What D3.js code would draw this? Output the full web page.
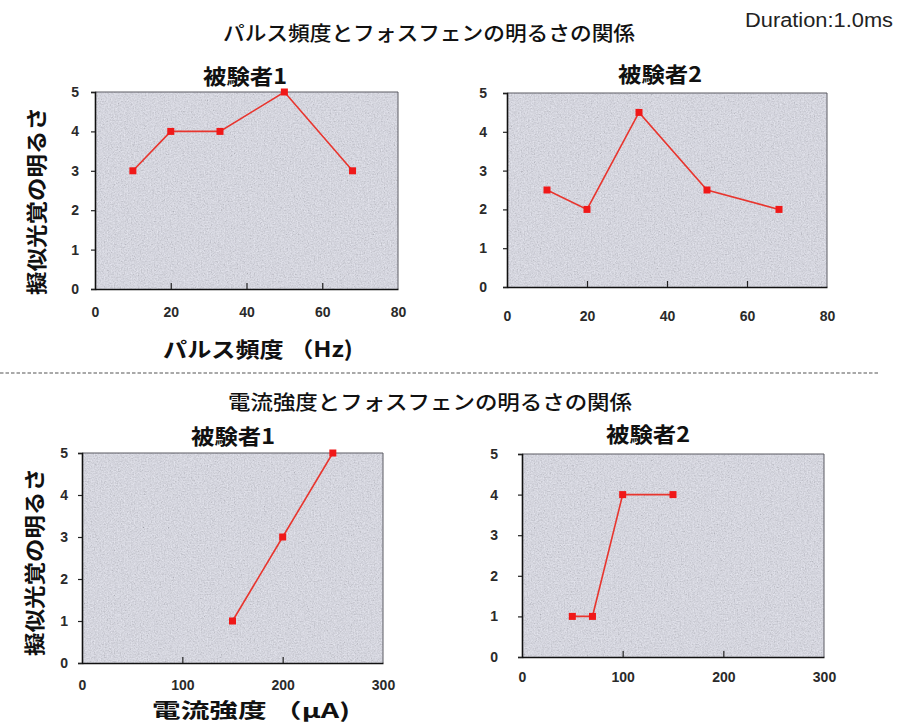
<!DOCTYPE html>
<html>
<head>
<meta charset="utf-8">
<script src="https://cdn.jsdelivr.net/npm/d3@7/dist/d3.min.js"></script>
<style>
  html, body { margin: 0; padding: 0; background: #ffffff; }
  svg { display: block; }
</style>
</head>
<body>
<svg id="chart" width="907" height="724"></svg>
<script>
// ---- data ----
const freqHz = [10, 20, 33, 50, 68];
const freqBrightS1 = [3, 4, 4, 5, 3];
const freqBrightS2 = [2.5, 2, 4.5, 2.5, 2];

const currentS1 = [150, 200, 250];
const currentBrightS1 = [1, 3, 5];
const currentS2 = [50, 70, 100, 150];
const currentBrightS2 = [1, 1, 4, 4];

const freqTicks = [0, 20, 40, 60, 80];
const currentTicks = [0, 100, 200, 300];
const brightTicks = [0, 1, 2, 3, 4, 5];

const subjectNames = ["被験者1", "被験者2"];
const titleFreq = "パルス頻度とフォスフェンの明るさの関係";
const titleCurrent = "電流強度とフォスフェンの明るさの関係";
const yLabel = "擬似光覚の明るさ";
const xLabelFreq = "パルス頻度 （Hz)";
const xLabelCurrent = "電流強度 （μA)";
const durationNote = "Duration:1.0ms";

// ---- layout ----
const svg = d3.select("#chart");
const CJK = "'Noto Sans CJK JP', 'Noto Sans CJK SC', sans-serif";
const LAT = "'Liberation Sans', Arial, sans-serif";

// grainy texture for the plot areas
const defs = svg.append("defs");
const grain = defs.append("filter").attr("id", "grain")
  .attr("x", 0).attr("y", 0).attr("width", "100%").attr("height", "100%");
grain.append("feTurbulence").attr("type", "fractalNoise")
  .attr("baseFrequency", 0.7).attr("numOctaves", 3).attr("seed", 11);
grain.append("feColorMatrix").attr("type", "matrix")
  .attr("values", "0.55 0.55 0.55 0 -0.33  0.55 0.55 0.55 0 -0.33  0.52 0.52 0.60 0 -0.33  0 0 0 0 1");

const panels = [
  { xs: freqHz, ys: freqBrightS1, xDomain: [0, 80], xTicks: freqTicks, name: subjectNames[0],
    box: { l: 95, r: 398, t: 92, b: 289 }, nameAt: [245, 75], yPad: 12, xPad: 18 },
  { xs: freqHz, ys: freqBrightS2, xDomain: [0, 80], xTicks: freqTicks, name: subjectNames[1],
    box: { l: 507, r: 827, t: 93, b: 287 }, nameAt: [660, 73], yPad: 16, xPad: 24 },
  { xs: currentS1, ys: currentBrightS1, xDomain: [0, 300], xTicks: currentTicks, name: subjectNames[0],
    box: { l: 82, r: 383, t: 453, b: 663 }, nameAt: [233, 435], yPad: 10, xPad: 17 },
  { xs: currentS2, ys: currentBrightS2, xDomain: [0, 300], xTicks: currentTicks, name: subjectNames[1],
    box: { l: 522, r: 824, t: 454, b: 657 }, nameAt: [648, 433], yPad: 20, xPad: 15 }
];

panels.forEach(p => {
  const { l, r, t, b } = p.box;
  const x = d3.scaleLinear().domain(p.xDomain).range([l, r]);
  const y = d3.scaleLinear().domain([0, 5]).range([b, t]);
  const g = svg.append("g");

  // plot area
  g.append("rect").attr("x", l).attr("y", t).attr("width", r - l).attr("height", b - t)
    .attr("fill", "#e0e1ee");
  g.append("rect").attr("x", l).attr("y", t).attr("width", r - l).attr("height", b - t)
    .attr("filter", "url(#grain)").attr("opacity", 0.3);
  g.append("path")
    .attr("d", `M${l},${t}H${r}V${b}`)
    .attr("fill", "none").attr("stroke", "#5a5a62").attr("stroke-width", 1);

  // axes
  const yAxis = d3.axisLeft(y).tickValues(brightTicks).tickSize(4).tickPadding(p.yPad)
    .tickFormat(d3.format("d"));
  const ya = g.append("g").attr("transform", `translate(${l},0)`).call(yAxis);
  const xAxis = d3.axisBottom(x).tickValues(p.xTicks).tickSizeInner(-6).tickSizeOuter(0)
    .tickPadding(p.xPad).tickFormat(d3.format("d"));
  const xa = g.append("g").attr("transform", `translate(0,${b})`).call(xAxis);

  [ya, xa].forEach(a => {
    a.select(".domain").attr("stroke", "#111").attr("stroke-width", 1.6);
    a.selectAll(".tick line").attr("stroke", "#222").attr("stroke-width", 1.2);
    a.selectAll(".tick text").attr("font-family", LAT).attr("font-size", 14)
      .attr("font-weight", 700).attr("fill", "#2a2a2a");
  });
  // no inner tick lines at the plot ends
  xa.selectAll(".tick").filter(d => d === p.xDomain[0] || d === p.xDomain[1])
    .select("line").remove();

  // series
  const line = d3.line().x(d => x(d[0])).y(d => y(d[1]));
  const pts = p.xs.map((v, i) => [v, p.ys[i]]);
  g.append("path").datum(pts).attr("d", line)
    .attr("fill", "none").attr("stroke", "#e8352e").attr("stroke-width", 1.6);
  g.selectAll("rect.mk").data(pts).join("rect").attr("class", "mk")
    .attr("x", d => x(d[0]) - 3.5).attr("y", d => y(d[1]) - 3.5)
    .attr("width", 7).attr("height", 7).attr("fill", "#f01818");

  // subject name
  g.append("text").attr("x", p.nameAt[0]).attr("y", p.nameAt[1])
    .attr("text-anchor", "middle").attr("dominant-baseline", "central")
    .attr("font-family", CJK).attr("font-weight", 700).attr("font-size", 21)
    .attr("textLength", 84).attr("lengthAdjust", "spacingAndGlyphs")
    .attr("fill", "#111").text(p.name);
});

// section titles
svg.append("text").attr("x", 429).attr("y", 32)
  .attr("text-anchor", "middle").attr("dominant-baseline", "central")
  .attr("font-family", CJK).attr("font-weight", 500).attr("font-size", 20)
  .attr("textLength", 412).attr("lengthAdjust", "spacingAndGlyphs")
  .attr("fill", "#111").text(titleFreq);
svg.append("text").attr("x", 430).attr("y", 401)
  .attr("text-anchor", "middle").attr("dominant-baseline", "central")
  .attr("font-family", CJK).attr("font-weight", 500).attr("font-size", 20)
  .attr("textLength", 404).attr("lengthAdjust", "spacingAndGlyphs")
  .attr("fill", "#111").text(titleCurrent);

// duration note
svg.append("text").attr("x", 745).attr("y", 27)
  .attr("font-family", LAT).attr("font-size", 20)
  .attr("textLength", 148).attr("lengthAdjust", "spacingAndGlyphs")
  .attr("fill", "#222").text(durationNote);

// y-axis labels
[[35, 201], [33, 562]].forEach(([cx, cy]) => {
  svg.append("text").attr("transform", `translate(${cx},${cy}) rotate(-90)`)
    .attr("text-anchor", "middle").attr("dominant-baseline", "central")
    .attr("font-family", CJK).attr("font-weight", 700).attr("font-size", 21)
    .attr("textLength", 188).attr("lengthAdjust", "spacingAndGlyphs")
    .attr("fill", "#111").text(yLabel);
});

// x-axis labels
svg.append("text").attr("x", 163).attr("y", 348).attr("dominant-baseline", "central")
  .attr("font-family", CJK).attr("font-weight", 700).attr("font-size", 21)
  .attr("textLength", 190).attr("lengthAdjust", "spacingAndGlyphs")
  .attr("fill", "#111").text(xLabelFreq);
svg.append("text").attr("x", 152).attr("y", 709).attr("dominant-baseline", "central")
  .attr("font-family", CJK).attr("font-weight", 700).attr("font-size", 20)
  .attr("textLength", 198).attr("lengthAdjust", "spacingAndGlyphs")
  .attr("fill", "#111").text(xLabelCurrent);

// section divider
svg.append("line").attr("x1", 0).attr("x2", 878).attr("y1", 373).attr("y2", 373)
  .attr("stroke", "#555").attr("stroke-width", 1.2).attr("stroke-dasharray", "3.5,2");
</script>
</body>
</html>
